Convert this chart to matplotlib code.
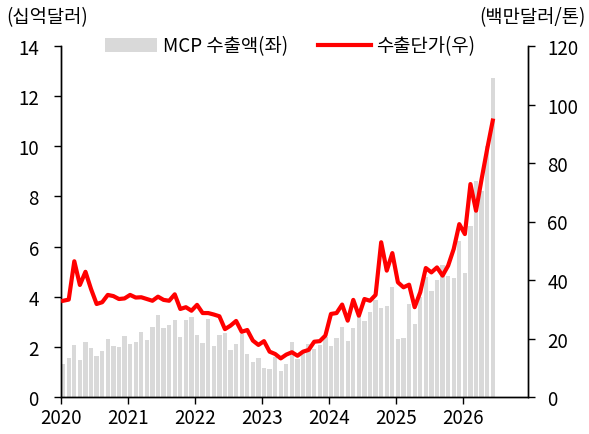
import matplotlib
matplotlib.use("Agg")
import matplotlib.pyplot as plt
from matplotlib.patches import Patch
from matplotlib.lines import Line2D

plt.rcParams['font.family'] = ['Noto Sans CJK KR', 'DejaVu Sans']

years = ['2020', '2021', '2022', '2023', '2024', '2025', '2026']

export_value = [
    1.30, 1.57, 2.07, 1.49, 2.18, 1.97, 1.64, 1.83, 2.31, 2.02, 1.98, 2.45,
    2.13, 2.20, 2.59, 2.26, 2.78, 3.26, 2.75, 2.87, 3.08, 2.41, 3.08, 3.19,
    2.47, 2.16, 3.11, 2.03, 2.46, 2.57, 1.87, 2.13, 2.51, 1.70, 1.40, 1.54,
    1.17, 1.12, 1.61, 1.02, 1.33, 2.18, 1.52, 1.78, 2.13, 1.90, 2.07, 2.38,
    2.02, 2.35, 2.78, 2.22, 2.75, 3.24, 3.03, 3.40, 3.87, 3.55, 3.64, 4.40,
    2.30, 2.34, 3.71, 2.91, 4.00, 4.77, 4.24, 4.66, 5.28, 4.81, 4.75, 6.22,
    4.94, 6.81, 8.63, 8.23, 10.00, 12.72,
]

unit_price = [
    32.9, 33.3, 46.4, 38.3, 42.8, 36.9, 31.8, 32.4, 34.9, 34.5, 33.5, 33.7,
    34.9, 34.0, 34.1, 33.5, 32.9, 34.3, 33.2, 32.9, 35.1, 30.1, 30.7, 29.5,
    31.5, 28.7, 28.7, 28.2, 27.6, 23.2, 24.4, 26.0, 22.3, 22.9, 19.3, 17.8,
    19.1, 15.5, 14.7, 13.2, 14.5, 15.3, 14.1, 15.5, 16.1, 18.9, 19.1, 21.0,
    28.4, 28.7, 31.6, 26.1, 33.2, 27.8, 33.5, 32.9, 34.9, 52.9, 43.2, 49.2,
    39.2, 37.5, 38.4, 30.7, 35.8, 44.1, 42.6, 44.3, 41.5, 44.9, 50.6, 59.1,
    55.7, 72.8, 63.7, 74.5, 84.8, 94.5,
]

bar_label = 'MCP 수출액(좌)'
line_label = '수출단가(우)'
left_unit = '(십억달러)'
right_unit = '(백만달러/톤)'

fig = plt.figure(figsize=(5.89, 4.35), dpi=100)
ax = fig.add_axes([61/589, 37/435, (528-61)/589, (398-47)/435])
ax2 = ax.twinx()

months = list(range(len(export_value)))
bw = 0.77
ax.bar(months, export_value, width=bw, align='edge', color='#d9d9d9', zorder=1)
ax2.plot([m + bw/2 for m in months], unit_price, color='#ff0000', lw=3.0,
         solid_joinstyle='round', zorder=3)

ax.set_xlim(0, 83.7)
ax.set_ylim(0, 14)
ax2.set_ylim(0, 120)
ax.set_yticks(range(0, 15, 2))
ax2.set_yticks(range(0, 121, 20))
ax.set_xticks([12*i for i in range(len(years))])
ax.set_xticklabels(years)

fs = 13.5
for a in (ax, ax2):
    a.spines['top'].set_visible(False)
    for s in a.spines.values():
        s.set_linewidth(1.0)
        s.set_color('black')
ax.tick_params(axis='x', direction='out', length=5, width=1, labelsize=fs, pad=2)
ax.tick_params(axis='y', direction='out', length=5, width=1, labelsize=fs, pad=11)
ax2.tick_params(axis='y', direction='out', length=5, width=1, labelsize=fs, pad=9)
ax2.patch.set_visible(False)

fig.text(6/589, 1 - 18/435, left_unit, fontsize=fs, ha='left', va='center')
fig.text(586/589, 1 - 18/435, right_unit, fontsize=fs, ha='right', va='center')

handles = [Patch(facecolor='#d9d9d9', edgecolor='none'),
           Line2D([0], [0], color='#ff0000', lw=3.0)]
fig.legend(handles, [bar_label, line_label], loc='center',
           bbox_to_anchor=(290/589, 1 - 47/435), ncol=2, frameon=False,
           fontsize=fs, handlelength=2.8, handleheight=0.8, columnspacing=1.6,
           handletextpad=0.3, borderaxespad=0, borderpad=0)

fig.savefig('out.png', dpi=100)
